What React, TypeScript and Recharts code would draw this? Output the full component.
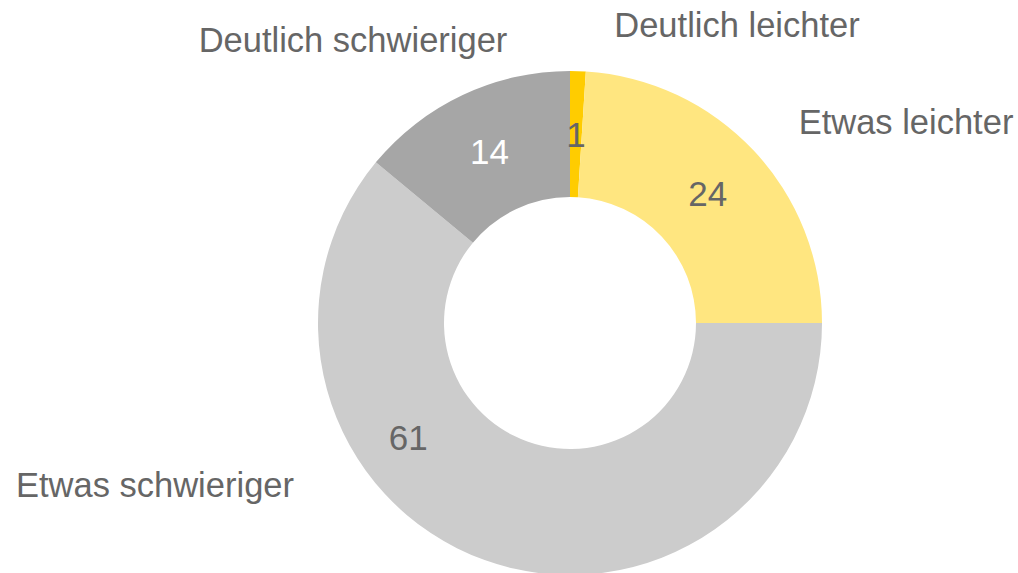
import React from 'react';
import { PieChart, Pie, Cell } from 'recharts';

const categories = ['Deutlich leichter', 'Etwas leichter', 'Etwas schwieriger', 'Deutlich schwieriger'];
const values = [1, 24, 61, 14];
const colors = ['#FFCC00', '#FFE680', '#CCCCCC', '#A6A6A6'];
const valueLabelColors = ['#666666', '#666666', '#666666', '#FFFFFF'];

// label placement (relative to pie center), not data
const categoryLabelOffsets = [
  [167, -298],
  [336, -201],
  [-415, 162],
  [-217, -283],
];
const valueLabelAngleShift = [0, 0, -35, 0];
const valueLabelRadiusExtra = [0, 0, 9, 0];

const data = categories.map((name, i) => ({ name, value: values[i] }));

const RAD = Math.PI / 180;
const TEXT = '#666666';
const FONT = '"Liberation Sans", Arial, sans-serif';

const renderLabel = (props: any) => {
  const { cx, cy, midAngle, innerRadius, outerRadius, index } = props;
  const ang = midAngle + valueLabelAngleShift[index];
  const r = (innerRadius + outerRadius) / 2 + valueLabelRadiusExtra[index];
  const x = cx + r * Math.cos(-ang * RAD);
  const y = cy + r * Math.sin(-ang * RAD);
  const [ox, oy] = categoryLabelOffsets[index];
  return (
    <g>
      <text x={x} y={y} textAnchor="middle" dominantBaseline="central" fill={valueLabelColors[index]} fontSize={35} fontFamily={FONT}>
        {values[index]}
      </text>
      <text x={cx + ox} y={cy + oy} textAnchor="middle" dominantBaseline="central" fill={TEXT} fontSize={34.5} fontFamily={FONT}>
        {categories[index]}
      </text>
    </g>
  );
};

export default function App() {
  return (
    <div style={{ position: 'absolute', left: 0, top: 0, width: 1018, height: 573, background: '#fff' }}>
      <PieChart width={1018} height={573} margin={{ top: 0, right: 0, bottom: 0, left: 0 }}>
        <Pie
          data={data}
          dataKey="value"
          nameKey="name"
          cx={570}
          cy={323}
          innerRadius={126}
          outerRadius={252}
          startAngle={90}
          endAngle={-270}
          stroke="none"
          isAnimationActive={false}
          label={renderLabel}
          labelLine={false}
        >
          {data.map((d, i) => (
            <Cell key={d.name} fill={colors[i]} />
          ))}
        </Pie>
      </PieChart>
    </div>
  );
}
